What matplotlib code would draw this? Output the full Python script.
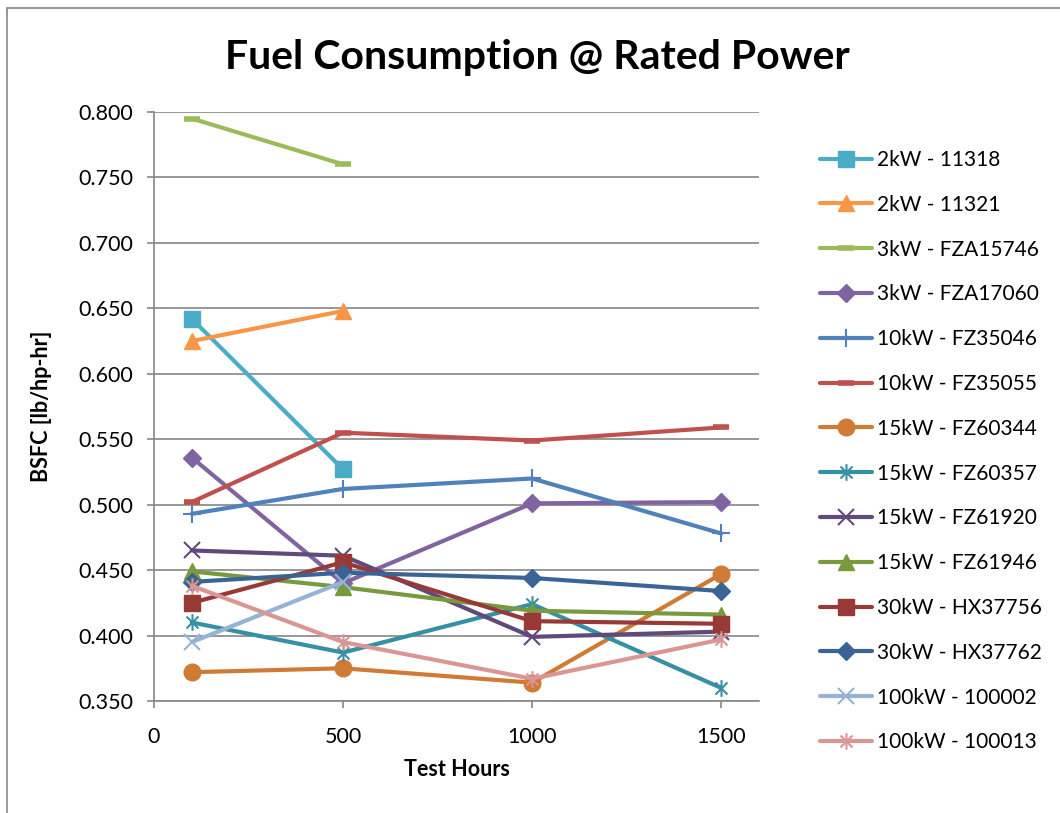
import numpy as np
import matplotlib
matplotlib.use("Agg")
import matplotlib.pyplot as plt
from matplotlib.path import Path
from matplotlib.patches import Rectangle

plt.rcParams['font.family'] = ['Lato', 'DejaVu Sans']

# test hours
hours = [100, 500, 1000, 1500]

# BSFC values (lb/hp-hr), nan = no reading
kw2_11318 = [0.642, 0.527, np.nan, np.nan]
kw2_11321 = [0.625, 0.648, np.nan, np.nan]
kw3_fza15746 = [0.795, 0.760, np.nan, np.nan]
kw3_fza17060 = [0.536, 0.440, 0.501, 0.502]
kw10_fz35046 = [0.493, 0.512, 0.520, 0.478]
kw10_fz35055 = [0.502, 0.555, 0.549, 0.559]
kw15_fz60344 = [0.372, 0.375, 0.364, 0.447]
kw15_fz60357 = [0.410, 0.387, 0.424, 0.360]
kw15_fz61920 = [0.465, 0.461, 0.399, 0.403]
kw15_fz61946 = [0.449, 0.437, 0.419, 0.416]
kw30_hx37756 = [0.425, 0.456, 0.411, 0.409]
kw30_hx37762 = [0.441, 0.448, 0.444, 0.434]
kw100_100002 = [0.395, 0.441, np.nan, np.nan]
kw100_100013 = [0.438, 0.395, 0.367, 0.397]

labels = ['2kW - 11318', '2kW - 11321', '3kW - FZA15746', '3kW - FZA17060',
          '10kW - FZ35046', '10kW - FZ35055', '15kW - FZ60344', '15kW - FZ60357',
          '15kW - FZ61920', '15kW - FZ61946', '30kW - HX37756', '30kW - HX37762',
          '100kW - 100002', '100kW - 100013']
series = [kw2_11318, kw2_11321, kw3_fza15746, kw3_fza17060, kw10_fz35046,
          kw10_fz35055, kw15_fz60344, kw15_fz60357, kw15_fz61920, kw15_fz61946,
          kw30_hx37756, kw30_hx37762, kw100_100002, kw100_100013]

colors = ['#4BACC6', '#F79646', '#9BBB59', '#8064A2', '#4F81BD', '#C0504D',
          '#CF7B35', '#3590A5', '#604A7B', '#789A3D', '#973A37', '#3A6496',
          '#95B3D7', '#D99694']

# asterisk like excel: vertical bar plus an x
star = Path([(0, -1), (0, 1), (-0.72, -0.72), (0.72, 0.72), (-0.72, 0.72), (0.72, -0.72)],
            [Path.MOVETO, Path.LINETO] * 3)

# (marker, size, edge width)
markers = [('s', 11, 1), ('^', 12, 1), ('_', 12, 4), ('D', 9, 1),
           ('+', 13, 1.5), ('_', 12, 4), ('o', 12, 1), (star, 12, 1.5),
           ('x', 11, 1.5), ('^', 12, 1), ('s', 11, 1), ('D', 9, 1),
           ('x', 11, 1.5), (star, 12, 1.5)]

fig = plt.figure(figsize=(10.6, 8.13), dpi=100)
ax = fig.add_axes([154 / 1060, 1 - 701 / 813, 605 / 1060, 589 / 813])

for vals, lab, c, (m, ms, mew) in zip(series, labels, colors, markers):
    ax.plot(hours, vals, color=c, lw=3, marker=m, ms=ms, mew=mew,
            mec=c, mfc=c, label=lab, solid_capstyle='round', clip_on=False)

grey = '#868686'
ax.set_xlim(0, 1600)
ax.set_ylim(0.35, 0.80)
ax.set_xticks([0, 500, 1000, 1500])
ax.set_yticks(np.arange(0.35, 0.801, 0.05))
ax.yaxis.set_major_formatter(matplotlib.ticker.FormatStrFormatter('%.3f'))
ax.grid(axis='y', color=grey, lw=1.2)
ax.set_axisbelow(True)
for s in ['top', 'right']:
    ax.spines[s].set_visible(False)
for s in ['left', 'bottom']:
    ax.spines[s].set_color(grey)
    ax.spines[s].set_linewidth(1.2)
ax.tick_params(axis='both', colors=grey, labelcolor='black', labelsize=15.5,
               length=5, width=1.2, direction='out')
ax.tick_params(axis='y', pad=10)
ax.tick_params(axis='x', pad=14)

ax.set_xlabel('Test Hours', fontsize=15.5, fontweight='bold', labelpad=8)
ax.set_ylabel('BSFC [lb/hp-hr]', fontsize=15.5, fontweight='bold', labelpad=19)
fig.text(537 / 1060, 1 - 57 / 813, 'Fuel Consumption @ Rated Power',
         fontsize=29.5, fontweight='bold', ha='center', va='center')

ax.legend(loc='upper left', bbox_to_anchor=(820 / 1060, 1 - 150 / 813),
          bbox_transform=fig.transFigure, frameon=False, fontsize=15,
          handlelength=2.5, handletextpad=0.25, labelspacing=1.19,
          borderpad=0, borderaxespad=0)

# chart area border (image is cropped on the right and bottom)
fig.add_artist(Rectangle((7 / 1060, -0.1), 1.2, 1.1 - 8 / 813, transform=fig.transFigure,
                         fill=False, edgecolor=grey, lw=1.2))

fig.savefig('out.png', dpi=100)
